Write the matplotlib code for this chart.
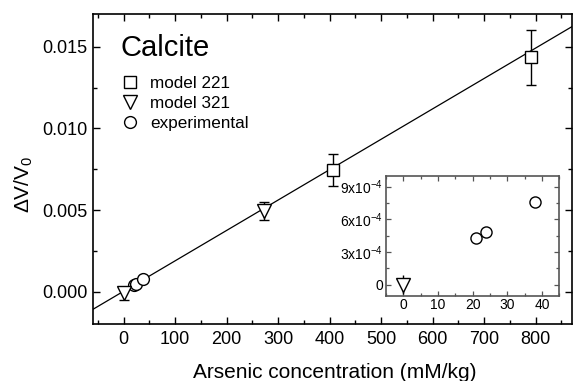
import numpy as np
import matplotlib
matplotlib.use('Agg')
import matplotlib.pyplot as plt
from matplotlib.ticker import MultipleLocator, FixedLocator, FixedFormatter

plt.rcParams['font.family'] = ['Liberation Sans', 'DejaVu Sans']
plt.rcParams['mathtext.fontset'] = 'custom'
plt.rcParams['mathtext.rm'] = 'Liberation Sans'
plt.rcParams['mathtext.it'] = 'Liberation Sans:italic'

# --- date ---
x_221 = [406, 790]
y_221 = [0.00745, 0.01434]
err_221 = [0.00098, 0.00166]

x_321 = [0, 272]
y_321 = [-0.0001, 0.00496]
err_321 = [0.0004, 0.00055]

x_exp = [21.1, 23.8, 38.1]
y_exp = [0.00043, 0.000486, 0.000757]

# dreapta de regresie
slope = 1.86e-5
intercept = 3.6e-5

# inset
inset_x_321 = [0]
inset_y_321 = [0.0]
inset_err_321 = [0.00009]

inset_yticks = [0, 3e-4, 6e-4, 9e-4]
inset_ylabels = ['0', '3x10$^{-4}$', '6x10$^{-4}$', '9x10$^{-4}$']

# --- grafic principal ---
fig = plt.figure(figsize=(5.73, 3.81), dpi=100)
ax = fig.add_axes([0.1618, 0.1483, 0.836, 0.815])

xlim = (-60, 870)
ax.set_xlim(xlim)
ax.set_ylim(-0.002, 0.017)

fit_x = np.array(xlim)
ax.plot(fit_x, slope * fit_x + intercept, color='black', linewidth=0.9, zorder=1)

ax.errorbar(x_221, y_221, yerr=err_221, fmt='s', ms=8.5, mfc='white', mec='black',
            mew=1, ecolor='black', elinewidth=1, capsize=3.5, capthick=1, zorder=3)
ax.errorbar(x_321, y_321, yerr=err_321, fmt='v', ms=9.5, mfc='white', mec='black',
            mew=1, ecolor='black', elinewidth=1, capsize=3.5, capthick=1, zorder=3)
ax.plot(x_exp, y_exp, 'o', ms=8.5, mfc='white', mec='black', mew=1, zorder=3)

# legenda
h1, = ax.plot([], [], 's', ms=8.5, mfc='white', mec='black', mew=1, label='model 221')
h2, = ax.plot([], [], 'v', ms=9.5, mfc='white', mec='black', mew=1, label='model 321')
h3, = ax.plot([], [], 'o', ms=8.5, mfc='white', mec='black', mew=1, label='experimental')
ax.legend(handles=[h1, h2, h3], loc='upper left', bbox_to_anchor=(0.035, 0.84),
          frameon=False, fontsize=12.3, handlelength=1.0, handletextpad=0.7,
          labelspacing=0.3, borderpad=0.2)
ax.text(0.058, 0.935, 'Calcite', transform=ax.transAxes, fontsize=21, va='top', ha='left')

ax.set_xticks([0, 100, 200, 300, 400, 500, 600, 700, 800])
ax.xaxis.set_minor_locator(MultipleLocator(50))
ax.set_yticks([0.000, 0.005, 0.010, 0.015])
ax.set_yticklabels(['0.000', '0.005', '0.010', '0.015'])
ax.yaxis.set_minor_locator(MultipleLocator(0.0025))
ax.tick_params(which='both', direction='in', top=True, right=True, labelsize=13)
ax.tick_params(axis='x', pad=5)
ax.tick_params(which='major', length=5, width=1)
ax.tick_params(which='minor', length=3, width=1)
for s in ax.spines.values():
    s.set_linewidth(1.2)

ax.set_xlabel('Arsenic concentration (mM/kg)', fontsize=15)
ax.xaxis.set_label_coords(0.505, -0.125)
ax.set_ylabel('ΔV/V$_0$', fontsize=15)
ax.yaxis.set_label_coords(-0.12, 0.45)

# --- inset ---
axi = fig.add_axes([0.6736, 0.2244, 0.3025, 0.3144])
axi.set_xlim(-5, 45)
axi.set_ylim(-1e-4, 1e-3)
axi.plot(x_exp, y_exp, 'o', ms=8, mfc='white', mec='black', mew=1, zorder=3)
axi.errorbar(inset_x_321, inset_y_321, yerr=inset_err_321, fmt='v', ms=9.5, mfc='white',
             mec='black', mew=1, ecolor='black', elinewidth=1, capsize=0, zorder=3)

axi.set_xticks([0, 10, 20, 30, 40])
axi.xaxis.set_minor_locator(MultipleLocator(5))
axi.yaxis.set_major_locator(FixedLocator(inset_yticks))
axi.yaxis.set_major_formatter(FixedFormatter(inset_ylabels))
axi.yaxis.set_minor_locator(MultipleLocator(1.5e-4))
axi.tick_params(which='both', direction='in', top=True, right=True, labelsize=10,
                color='#555555', pad=2)
axi.tick_params(which='major', length=3.5, width=0.9)
axi.tick_params(which='minor', length=2, width=0.9)
for s in axi.spines.values():
    s.set_linewidth(1.2)
    s.set_color('#555555')

fig.savefig('out.png', dpi=100)
